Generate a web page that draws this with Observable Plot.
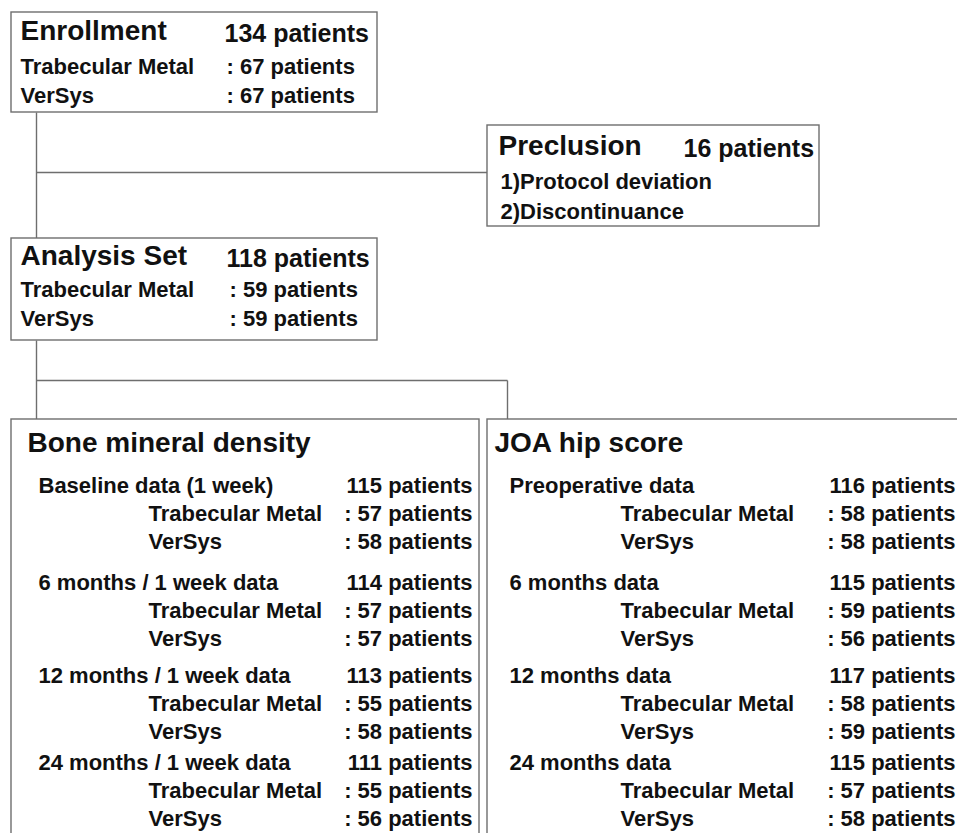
<!DOCTYPE html>
<html>
<head>
<meta charset="utf-8">
<script src="https://cdn.jsdelivr.net/npm/d3@7"></script>
<script src="https://cdn.jsdelivr.net/npm/@observablehq/plot@0.6"></script>
<style>
  html, body { margin: 0; padding: 0; background: #fff; overflow: hidden; }
  #chart svg { overflow: hidden; }
</style>
</head>
<body>
<div id="chart"></div>
<script>
// ---------- data ----------
const stageTitles = ["Enrollment", "Analysis Set"];
const stageTotals = [134, 118];
const stageTM = [67, 59];
const stageVS = [67, 59];
const groupNames = ["Trabecular Metal", "VerSys"];

const preclusionTitle = "Preclusion";
const preclusionTotal = 16;
const preclusionReasons = ["1)Protocol deviation", "2)Discontinuance"];

const outcomeTitles = ["Bone mineral density", "JOA hip score"];
const bmdPeriods = ["Baseline data (1 week)", "6 months / 1 week data", "12 months / 1 week data", "24 months / 1 week data"];
const bmdTotals = [115, 114, 113, 111];
const bmdTM = [57, 57, 55, 55];
const bmdVS = [58, 57, 58, 56];
const joaPeriods = ["Preoperative data", "6 months data", "12 months data", "24 months data"];
const joaTotals = [116, 115, 117, 115];
const joaTM = [58, 59, 58, 57];
const joaVS = [58, 56, 59, 58];

// ---------- layout (diagram geometry) ----------
const W = 957, H = 833;
const stageLayout = [
  {x1: 11, x2: 377, y1: 12, y2: 112, titleY: 31, totalY: 33, rowY: [66, 95], totalX: 224, countX: 226},
  {x1: 11, x2: 377, y1: 238, y2: 340, titleY: 256, totalY: 258, rowY: [289, 318], totalX: 226, countX: 229}
];
const preclusionLayout = {x1: 487, x2: 819, y1: 125, y2: 226, titleX: 498, titleY: 146, totalX: 683, totalY: 148, reasonX: 500, reasonY: [181, 211]};
const outcomeLayout = [
  {x1: 11, x2: 479, titleX: 27, periodX: 38, subX: 148, countEnd: 472},
  {x1: 487, x2: 975, titleX: 494, periodX: 509, subX: 620, countEnd: 955}
];
const outcomeTop = 419, outcomeBottom = 850, outcomeTitleY = 443;
const periodY = [485, 582, 675, 762];
const subOffset = [28, 56];
const trunkX = 36, branchX = 507;

// ---------- build mark data ----------
const boxes = [];
stageLayout.forEach(b => boxes.push(b));
boxes.push(preclusionLayout);
outcomeLayout.forEach(b => boxes.push({x1: b.x1, x2: b.x2, y1: outcomeTop, y2: outcomeBottom}));

const links = [
  {x1: trunkX, y1: stageLayout[0].y2, x2: trunkX, y2: stageLayout[1].y1},
  {x1: trunkX, y1: 172, x2: preclusionLayout.x1, y2: 172},
  {x1: trunkX, y1: stageLayout[1].y2, x2: trunkX, y2: outcomeTop},
  {x1: trunkX, y1: 380, x2: branchX, y2: 380},
  {x1: branchX, y1: 380, x2: branchX, y2: outcomeTop}
];

const titles = [], totals = [], bodyStart = [], bodyEnd = [];
stageTitles.forEach((t, i) => {
  const L = stageLayout[i];
  titles.push({x: L.x1 + 9, y: L.titleY, text: t});
  totals.push({x: L.totalX, y: L.totalY, text: `${stageTotals[i]} patients`});
  bodyStart.push({x: L.x1 + 9, y: L.rowY[0], text: groupNames[0]});
  bodyStart.push({x: L.x1 + 9, y: L.rowY[1], text: groupNames[1]});
  bodyStart.push({x: L.countX, y: L.rowY[0], text: `: ${stageTM[i]} patients`});
  bodyStart.push({x: L.countX, y: L.rowY[1], text: `: ${stageVS[i]} patients`});
});
titles.push({x: preclusionLayout.titleX, y: preclusionLayout.titleY, text: preclusionTitle});
totals.push({x: preclusionLayout.totalX, y: preclusionLayout.totalY, text: `${preclusionTotal} patients`});
preclusionReasons.forEach((r, i) => bodyStart.push({x: preclusionLayout.reasonX, y: preclusionLayout.reasonY[i], text: r}));

const outcomes = [
  {periods: bmdPeriods, totals: bmdTotals, tm: bmdTM, vs: bmdVS},
  {periods: joaPeriods, totals: joaTotals, tm: joaTM, vs: joaVS}
];
outcomes.forEach((o, k) => {
  const L = outcomeLayout[k];
  titles.push({x: L.titleX, y: outcomeTitleY, text: outcomeTitles[k]});
  o.periods.forEach((p, i) => {
    const y0 = periodY[i];
    bodyStart.push({x: L.periodX, y: y0, text: p});
    bodyStart.push({x: L.subX, y: y0 + subOffset[0], text: groupNames[0]});
    bodyStart.push({x: L.subX, y: y0 + subOffset[1], text: groupNames[1]});
    bodyEnd.push({x: L.countEnd, y: y0, text: `${o.totals[i]} patients`});
    bodyEnd.push({x: L.countEnd, y: y0 + subOffset[0], text: `: ${o.tm[i]} patients`});
    bodyEnd.push({x: L.countEnd, y: y0 + subOffset[1], text: `: ${o.vs[i]} patients`});
  });
});

const font = "'Liberation Sans', Arial, Helvetica, sans-serif";
const ink = "#111";
const lineColor = "#6e6e6e";

const chart = Plot.plot({
  width: W,
  height: H,
  margin: 0,
  x: {domain: [0, W], range: [0, W], axis: null},
  y: {domain: [0, H], range: [0, H], axis: null},
  style: {fontFamily: font, background: "#fff"},
  marks: [
    Plot.link(links, {x1: "x1", y1: "y1", x2: "x2", y2: "y2", stroke: lineColor, strokeWidth: 1.4}),
    Plot.rect(boxes, {x1: "x1", x2: "x2", y1: "y1", y2: "y2", fill: "#fff", stroke: lineColor, strokeWidth: 1.4}),
    Plot.text(titles, {x: "x", y: "y", text: "text", textAnchor: "start", fontSize: 28, fontWeight: "bold", fill: ink}),
    Plot.text(totals, {x: "x", y: "y", text: "text", textAnchor: "start", fontSize: 25, fontWeight: "bold", fill: ink}),
    Plot.text(bodyStart, {x: "x", y: "y", text: "text", textAnchor: "start", fontSize: 22, fontWeight: "bold", fill: ink}),
    Plot.text(bodyEnd, {x: "x", y: "y", text: "text", textAnchor: "end", fontSize: 22, fontWeight: "bold", fill: ink})
  ]
});
document.getElementById("chart").appendChild(chart);
</script>
</body>
</html>
